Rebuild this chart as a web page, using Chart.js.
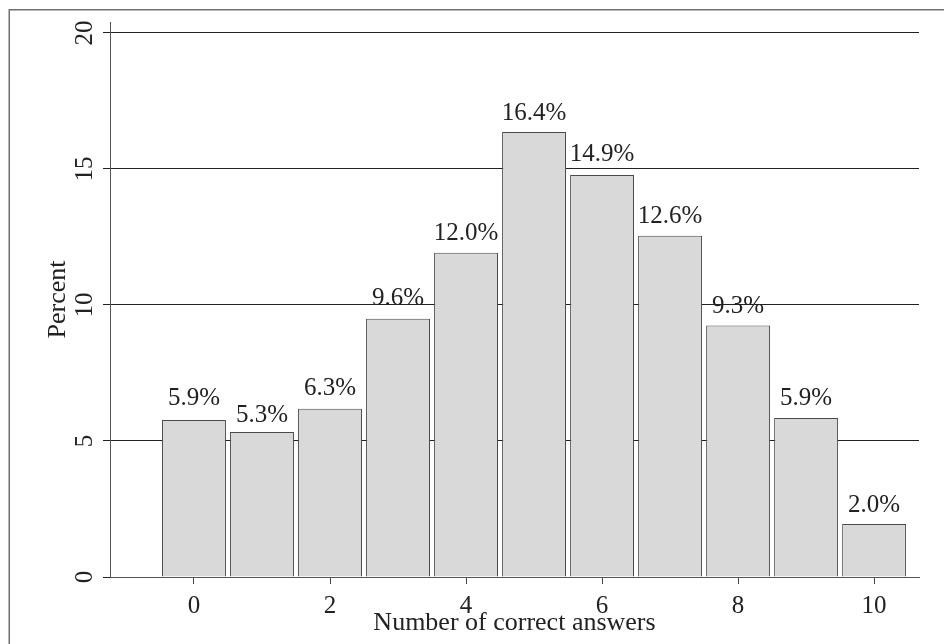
<!DOCTYPE html>
<html>
<head>
<meta charset="utf-8">
<script src="https://cdn.jsdelivr.net/npm/chart.js@4.4.1/dist/chart.umd.min.js"></script>
<style>
  html, body { margin: 0; padding: 0; background: #fff; }
  #wrap { width: 944px; height: 644px; }
</style>
</head>
<body>
<div id="wrap"><canvas id="histChart" width="944" height="644"></canvas></div>
<script>
// number of correct answers (bins)
const answers = [0, 1, 2, 3, 4, 5, 6, 7, 8, 9, 10];
// bar heights
const barHeights = [5.77, 5.33, 6.18, 9.49, 11.92, 16.36, 14.78, 12.54, 9.24, 5.84, 1.95];
// values printed above the bars
const labelValues = [5.9, 5.3, 6.3, 9.6, 12.0, 16.4, 14.9, 12.6, 9.3, 5.9, 2.0];
const xTicks = [0, 2, 4, 6, 8, 10];
const yTicks = [0, 5, 10, 15, 20];

const serif = "'Liberation Serif', 'Times New Roman', serif";

// white background + outer frame (top and left edges only visible)
const framePlugin = {
    id: "frame",
    beforeDraw: function (chart) {
        const ctx = chart.ctx;
        ctx.save();
        ctx.fillStyle = "#fff";
        ctx.fillRect(0, 0, chart.width, chart.height);
        ctx.strokeStyle = "#707070";
        ctx.lineWidth = 1.5;
        ctx.beginPath();
        ctx.moveTo(chart.width, 9.75);
        ctx.lineTo(9.25, 9.75);
        ctx.lineTo(9.25, chart.height);
        ctx.stroke();
        ctx.restore();
    }
};

// rotated y tick labels
const yLabelPlugin = {
    id: "yLabels",
    afterDraw: function (chart) {
        const ctx = chart.ctx;
        const y = chart.scales.y;
        ctx.save();
        ctx.font = "25px " + serif;
        ctx.fillStyle = "#222";
        ctx.textAlign = "center";
        ctx.textBaseline = "alphabetic";
        yTicks.forEach(function (v) {
            ctx.save();
            ctx.translate(92, y.getPixelForValue(v));
            ctx.rotate(-Math.PI / 2);
            ctx.fillText(String(v), 0, 0);
            ctx.restore();
        });
        ctx.restore();
    }
};

// percentage labels above bars
const barLabelPlugin = {
    id: "barLabels",
    afterDatasetsDraw: function (chart) {
        const ctx = chart.ctx;
        const meta = chart.getDatasetMeta(0);
        const y = chart.scales.y;
        ctx.save();
        ctx.font = "25px " + serif;
        ctx.fillStyle = "#222";
        ctx.textAlign = "center";
        ctx.textBaseline = "alphabetic";
        meta.data.forEach(function (bar, i) {
            ctx.fillText(labelValues[i].toFixed(1) + "%", bar.x, y.getPixelForValue(labelValues[i]) - 11);
        });
        ctx.restore();
    }
};

new Chart(document.getElementById("histChart"), {
    type: "bar",
    data: {
        datasets: [{
            data: answers.map((a, i) => ({ x: a, y: barHeights[i] })),
            backgroundColor: "#d9d9d9",
            borderColor: "#4a4a4a",
            borderWidth: 1,
            categoryPercentage: 1,
            barPercentage: 0.94
        }]
    },
    options: {
        responsive: false,
        animation: false,
        layout: { padding: { top: 22, right: 25, left: 0, bottom: 0 } },
        plugins: {
            legend: { display: false },
            tooltip: { enabled: false }
        },
        scales: {
            x: {
                type: "linear",
                min: -1.235,
                max: 10.66,
                offset: false,
                afterBuildTicks: function (scale) {
                    scale.ticks = xTicks.map(v => ({ value: v }));
                },
                afterFit: function (scale) { scale.height = 67; },
                grid: {
                    drawOnChartArea: false,
                    drawTicks: true,
                    tickLength: 7,
                    color: "#444",
                    offset: false
                },
                border: { display: true, color: "#555", width: 1 },
                ticks: {
                    color: "#222",
                    padding: 7,
                    maxRotation: 0,
                    font: { family: serif, size: 25 }
                },
                title: {
                    display: true,
                    text: "Number of correct answers",
                    color: "#222",
                    font: { family: serif, size: 26 },
                    padding: { top: 0, bottom: 5 }
                }
            },
            y: {
                min: 0,
                max: 20.4,
                afterBuildTicks: function (scale) {
                    scale.ticks = yTicks.map(v => ({ value: v }));
                },
                afterFit: function (scale) { scale.width = 110; },
                grid: {
                    drawOnChartArea: true,
                    drawTicks: true,
                    tickLength: 7,
                    color: "#222"
                },
                border: { display: true, color: "#555", width: 1 },
                ticks: { display: false },
                title: {
                    display: true,
                    text: "Percent",
                    color: "#222",
                    font: { family: serif, size: 26 },
                    padding: { top: 43, bottom: 0 }
                }
            }
        }
    },
    plugins: [framePlugin, yLabelPlugin, barLabelPlugin]
});
</script>
</body>
</html>
